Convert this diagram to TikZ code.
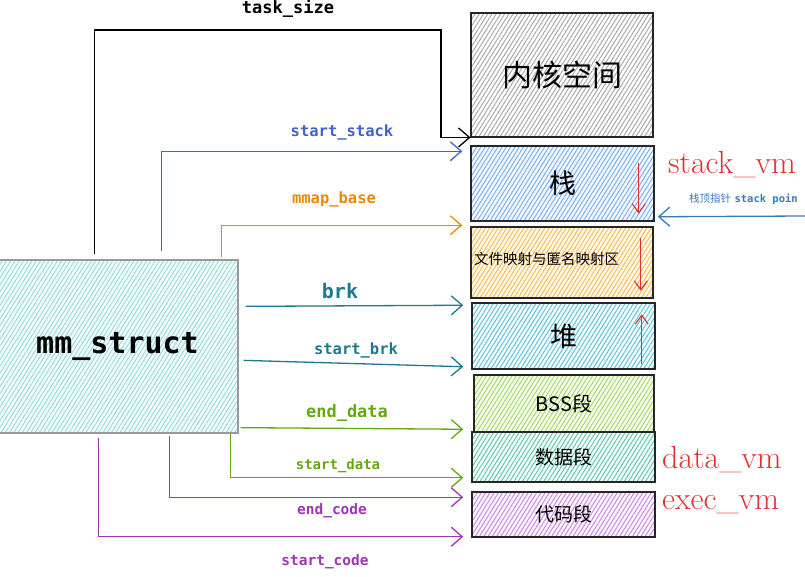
\documentclass[tikz,border=0pt]{standalone}
\usepackage{fontspec}
\newfontfamily\cjk{Noto Sans CJK SC}
\newfontfamily\mono{DejaVu Sans Mono}
\usetikzlibrary{arrows.meta,patterns.meta,calc}
\definecolor{cblue}{HTML}{4263C8}
\definecolor{corange}{HTML}{E8890C}
\definecolor{cteal}{HTML}{1C7A8C}
\definecolor{cgreen}{HTML}{66A80F}
\definecolor{cpurple}{HTML}{9C36B5}
\definecolor{cred}{HTML}{E03131}
\definecolor{cspblue}{HTML}{3A78B8}
\definecolor{hgray}{HTML}{A8A8A8}
\definecolor{hblue}{HTML}{74B4F0}
\definecolor{hyellow}{HTML}{F5C04A}
\definecolor{hcyan}{HTML}{5EC3D6}
\definecolor{hgreen}{HTML}{A9D65A}
\definecolor{hteal}{HTML}{5CCBA8}
\definecolor{hpurple}{HTML}{CC88E6}
\definecolor{hmm}{HTML}{9ADCDC}
\tikzset{
  seg/.style={draw=black!85, line width=1.5pt, inner sep=0pt, anchor=center},
  hatch/.style 2 args={preaction={fill=#1}, pattern={Lines[angle=58,distance=3.6pt,line width=0.95pt]}, pattern color=#2},
  arr/.style={line width=1.3pt, -{Straight Barb[length=11pt,width=19pt,line width=1.3pt]}},
  redarr/.style={cred, line width=1.1pt, -{Straight Barb[length=9pt,width=13pt,line width=1.1pt]}},
  lbl/.style={font=\mono\bfseries\fontsize{15.5}{15.5}\selectfont, inner sep=0pt},
  hand/.style={cred, font=\fontsize{32}{32}\selectfont, inner sep=0pt, anchor=west},
}
\begin{document}
\begin{tikzpicture}[x=1pt,y=-1pt]
\useasboundingbox (0,0) rectangle (805,577);
% memory segments
\node[seg, hatch={white}{hgray}, minimum width=182pt, minimum height=124pt, font=\cjk\fontsize{30}{30}\selectfont] (kern) at (562,75) {内核空间};
\node[seg, hatch={blue!4}{hblue}, minimum width=183pt, minimum height=75pt, font=\cjk\fontsize{27}{27}\selectfont] (stack) at (562.5,183.5) {栈};
\node[seg, hatch={orange!6}{hyellow}, minimum width=182pt, minimum height=71pt] (mmap) at (562,262.5) {};
\node[font=\cjk\fontsize{14.5}{14.5}\selectfont, anchor=west, inner sep=0pt] (mmaptxt) at (474,259) {文件映射与匿名映射区};
\node[seg, hatch={cyan!4}{hcyan}, minimum width=183pt, minimum height=66pt, font=\cjk\fontsize{27}{27}\selectfont] (heap) at (563.5,336) {堆};
\node[seg, hatch={green!4}{hgreen}, minimum width=180pt, minimum height=57pt, font=\cjk\fontsize{20}{20}\selectfont] (bss) at (564,403.5) {BSS段};
\node[seg, hatch={teal!4}{hteal}, minimum width=183pt, minimum height=50pt, font=\cjk\fontsize{19}{19}\selectfont] (data) at (563.5,457) {数据段};
\node[seg, hatch={violet!4}{hpurple}, minimum width=183pt, minimum height=45pt, font=\cjk\fontsize{19}{19}\selectfont] (code) at (563.5,514.5) {代码段};
% mm_struct
\node[draw=black!40, line width=1.3pt, hatch={cyan!5}{hmm}, minimum width=241pt, minimum height=173pt, inner sep=0pt, font=\mono\bfseries\fontsize{30}{30}\selectfont] (mm) at (117.5,346.5) {mm\_struct};
% red direction arrows
\draw[redarr] ($(stack.north east)+(-16,18)$) -- ($(stack.south east)+(-16,-8)$);
\draw[redarr] ($(mmap.north east)+(-13,12)$) -- ($(mmap.south east)+(-13,-8)$);
\draw[redarr] ($(heap.south east)+(-14,-6)$) -- ($(heap.north east)+(-14,12)$);
% connectors
\draw[arr, black] ($(mm.north west)+(98,-5)$) |- (441,30) |- (kern.south west);
\node[lbl, font=\mono\bfseries\fontsize{17}{17}\selectfont] (tsl) at (288,9) {task\_size};
\draw[arr, cblue] ($(mm.north west)+(165,-8)$) |- ($(stack.north west)+(-8,6)$);
\node[lbl, cblue] (ssl) at (342,132) {start\_stack};
\draw[arr, corange] ($(mm.north west)+(225,-2)$) |- ($(mmap.north west)+(-8,-1)$);
\node[lbl, corange] (mbl) at (334,199) {mmap\_base};
\draw[arr, cteal] ($(mm.north east)+(7,47)$) -- ($(heap.north west)+(-8,3)$);
\node[lbl, cteal, font=\mono\bfseries\fontsize{20}{20}\selectfont] (brkl) at (340,291) {brk};
\draw[arr, cteal] ($(mm.north east)+(5,101)$) -- ($(heap.south west)+(-8,-3)$);
\node[lbl, cteal] (sbl) at (356,350) {start\_brk};
\draw[arr, cgreen] ($(mm.south east)+(2,-6)$) -- ($(data.north west)+(-8,-2)$);
\node[lbl, cgreen, font=\mono\bfseries\fontsize{17}{17}\selectfont] (edl) at (347,413) {end\_data};
\draw[arr, cgreen] ($(mm.south east)+(-8,0)$) |- ($(data.south west)+(-8,-5)$);
\node[lbl, cgreen, font=\mono\bfseries\fontsize{14}{14}\selectfont] (sdl) at (338,466) {start\_data};
\draw[arr, cpurple] ($(mm.south west)+(173,2)$) |- ($(code.north west)+(-8,6)$);
\node[lbl, cpurple, font=\mono\bfseries\fontsize{14.5}{14.5}\selectfont] (ecl) at (332,511) {end\_code};
\draw[arr, cpurple] ($(mm.south west)+(102,4)$) |- ($(code.south west)+(-8,-1)$);
\node[lbl, cpurple, font=\mono\bfseries\fontsize{14.5}{14.5}\selectfont] (scl) at (325,562) {start\_code};
% stack pointer
\coordinate (spend) at (805,216);
\draw[arr, cspblue] (spend) -- ($(stack.south east)+(3,-5)$);
\node[inner sep=0pt, anchor=west, cspblue] (spl) at (689,199) {{\cjk\fontsize{10.5}{10.5}\selectfont 栈顶指针} {\mono\bfseries\fontsize{10.5}{10.5}\selectfont stack poin}};
% handwritten notes
\node[hand] (svm) at (668,165) {stack\_vm};
\node[hand] (dvm) at (662,460) {data\_vm};
\node[hand] (evm) at (662,505) {exec\_vm};
\end{tikzpicture}
\end{document}
